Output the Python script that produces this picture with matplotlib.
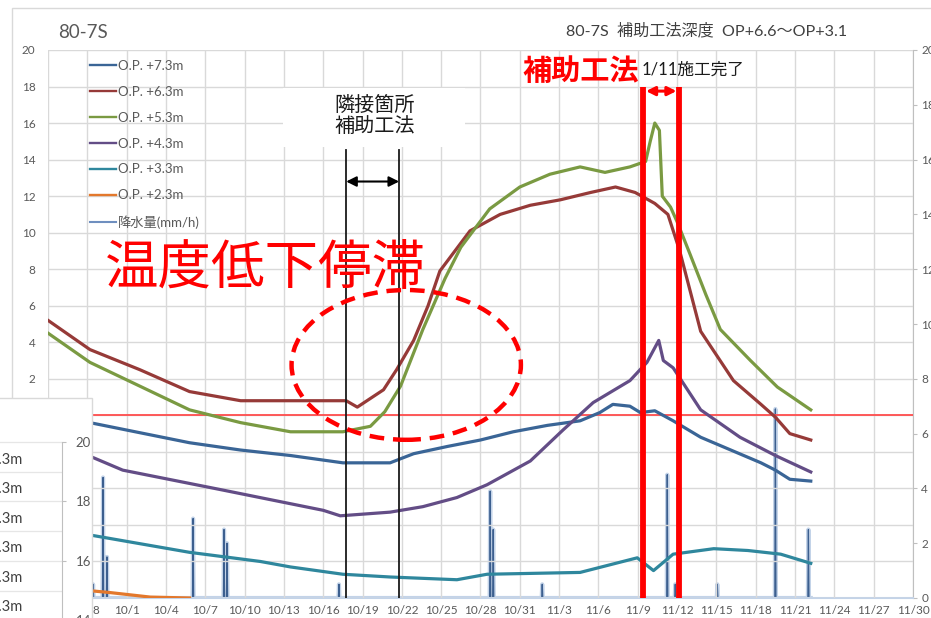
import numpy as np
import pandas as pd
import matplotlib
matplotlib.use("Agg")
import matplotlib.pyplot as plt
import matplotlib.dates as mdates
from matplotlib.patches import Ellipse, Rectangle
from matplotlib.lines import Line2D

plt.rcParams['font.family'] = ['Lato', 'Noto Sans CJK JP', 'DejaVu Sans']
plt.rcParams['axes.unicode_minus'] = False

W, H = 931, 618
START = pd.Timestamp('2019-09-25')
END = pd.Timestamp('2019-11-30')

# ---- data: elapsed days from START, ground temperature (deg C) ----
series_labels = ['O.P. +7.3m', 'O.P. +6.3m', 'O.P. +5.3m',
                 'O.P. +4.3m', 'O.P. +3.3m', 'O.P. +2.3m']
rain_label = '降水量(mm/h)'
series_colors = ['#3A6596', '#963A38', '#7A9A42', '#634D86', '#2F879D', '#E3782C']
rain_color = '#3C5F8F'

op73_days = [0, 3.2, 10.8, 14.7, 18.5, 22.5, 26.1, 27.9, 30.5, 33.0, 35.5,
             38.1, 40.6, 42.1, 43.1, 44.4, 45.2, 46.3, 47.7, 49.8, 52.1,
             54.4, 55.5, 56.6, 58.2]
op73_temp = [-0.1, -0.4, -1.5, -1.9, -2.2, -2.6, -2.6, -2.1, -1.7, -1.35, -0.9,
             -0.55, -0.3, 0.15, 0.6, 0.5, 0.15, 0.25, -0.3, -1.2, -1.9,
             -2.6, -3.0, -3.5, -3.6]

op63_days = [0, 3.2, 7.0, 10.8, 14.7, 19.2, 22.75, 23.6, 25.6, 26.6, 27.9,
             29.0, 29.9, 32.2, 34.5, 36.8, 39.1, 41.4, 43.3, 44.8, 46.3,
             47.3, 48.2, 49.0, 49.8, 52.3, 54.4, 55.5, 56.6, 58.2]
op63_temp = [5.2, 3.6, 2.5, 1.3, 0.8, 0.8, 0.8, 0.45, 1.4, 2.5, 4.1,
             6.0, 7.9, 10.1, 11.0, 11.5, 11.8, 12.2, 12.5, 12.2, 11.6,
             11.0, 9.0, 6.8, 4.6, 1.9, 0.6, -0.1, -1.0, -1.35]

op53_days = [0, 3.2, 7.0, 10.8, 14.7, 18.5, 22.5, 24.6, 25.7, 26.9, 28.6,
             30.3, 31.5, 33.7, 36.0, 38.3, 40.6, 42.5, 44.4, 45.6, 45.95,
             46.3, 46.65, 46.87, 47.5, 48.0, 49.0, 50.2, 51.3, 53.6, 55.65, 58.2]
op53_temp = [4.5, 2.9, 1.6, 0.3, -0.4, -0.9, -0.9, -0.6, 0.2, 1.6, 4.7,
             7.5, 9.2, 11.3, 12.5, 13.2, 13.6, 13.3, 13.6, 13.9, 15.0,
             16.0, 15.6, 12.0, 11.4, 10.6, 8.8, 6.6, 4.7, 3.0, 1.55, 0.3]

op43_days = [0, 3.4, 5.7, 13.4, 21.0, 22.3, 26.1, 28.6, 31.2, 33.5, 36.8,
             39.3, 41.6, 44.4, 45.7, 46.6, 46.95, 47.7, 49.8, 52.8, 55.5, 58.2]
op43_temp = [-1.8, -2.3, -3.0, -4.1, -5.2, -5.5, -5.3, -5.0, -4.5, -3.8, -2.5,
             -0.8, 0.7, 1.9, 2.9, 4.1, 3.0, 2.6, 0.3, -1.2, -2.2, -3.1]

op33_days = [0, 3.2, 10.8, 16.2, 18.5, 22.5, 26.1, 31.2, 33.5, 40.6, 44.96,
             46.2, 47.7, 50.8, 53.4, 55.9, 58.2]
op33_temp = [-6.3, -6.55, -7.5, -8.0, -8.3, -8.7, -8.85, -9.0, -8.7, -8.6, -7.8,
             -8.5, -7.6, -7.3, -7.4, -7.6, -8.1]

op23_days = [0, 3.2, 4.7, 7.8, 10.8]
op23_temp = [-8.9, -9.6, -9.7, -9.95, -10.0]

# hourly rainfall (mm/h): non-zero readings, all other hours are 0
rain_days = [3.44, 4.2, 4.5, 11.07, 13.43, 13.66, 22.2, 33.74, 33.97,
             37.71, 47.25, 47.86, 51.07, 55.5, 58.02]
rain_mm = [0.5, 4.4, 1.5, 2.9, 2.5, 2.0, 0.5, 3.9, 2.5,
           0.5, 4.5, 0.5, 0.5, 6.9, 2.5]
rain_end_day = 58.2

# works periods
neighbor_work = ('2019-10-17 18:00', '2019-10-21 19:00')
main_work = ('2019-11-09 10:00', '2019-11-12 04:00')


def to_dates(d):
    return START + pd.to_timedelta(np.asarray(d, dtype=float), unit='D')


def rain_profile(days, mm, end):
    hr = 1.0 / 24
    xs, ys = [0.0], [0.0]
    for d, v in zip(days, mm):
        xs += [d - hr, d, d + hr]
        ys += [0.0, v, 0.0]
    xs.append(end)
    ys.append(0.0)
    return to_dates(xs), ys


def fx(px):
    return px / W


def fy(py):
    return 1 - py / H


fig = plt.figure(figsize=(W / 100, H / 100), dpi=100)
fig.patch.set_facecolor('white')

grid_c = '#D9D9D9'
tick_c = '#595959'

ax = fig.add_axes([fx(48), fy(598), fx(913) - fx(48), fy(50) - fy(598)])
ax2 = ax.twinx()
ax.set_zorder(ax2.get_zorder() + 1)
ax.patch.set_visible(False)

# temperature series
temps = [(op73_days, op73_temp), (op63_days, op63_temp), (op53_days, op53_temp),
         (op43_days, op43_temp), (op33_days, op33_temp), (op23_days, op23_temp)]
for (d, t), c in zip(temps, series_colors):
    ax.plot(to_dates(d), t, color=c, lw=2.3, solid_joinstyle='round', zorder=3)

# rainfall on the secondary axis
rx, ry = rain_profile(rain_days, rain_mm, rain_end_day)
ax2.plot(rx, ry, color='#C3D3E8', lw=3.0, zorder=1)
ax2.plot(rx, ry, color=rain_color, lw=0.9, zorder=2)

# axes setup; labels under the corner panel are left blank
ax.set_xlim(START, END)
ax.set_ylim(-10, 20)
ax2.set_ylim(0, 20)
xt = pd.date_range(START, END, freq='3D')
ax.set_xticks(xt)
ax.set_xticklabels(['' if d == START else f'{d.month}/{d.day}' for d in xt])
yt = np.arange(-10, 21, 2)
ax.set_yticks(yt)
ax.set_yticklabels([f'{v}' if v > 0 else '' for v in yt])
ax2.set_yticks(np.arange(0, 21, 2))
ax.grid(True, color=grid_c, lw=1.0)
ax.tick_params(axis='x', length=0, pad=5, labelsize=8.5, labelcolor=tick_c)
ax.tick_params(axis='y', length=0, pad=9, labelsize=8.5, labelcolor=tick_c)
ax2.tick_params(axis='y', length=3, width=0.8, color='#BFBFBF', pad=3,
                labelsize=8.5, labelcolor=tick_c)
for a in (ax, ax2):
    for s in a.spines.values():
        s.set_visible(False)
ax2.spines['right'].set_visible(True)
ax2.spines['right'].set_color('#BFBFBF')
ax2.spines['bottom'].set_visible(True)
ax2.spines['bottom'].set_color('#C3D3E8')
ax2.spines['bottom'].set_linewidth(1.5)

# freezing line
ax.axhline(0, color='#FF4D4D', lw=1.3, zorder=2.5)

# neighbouring works period
n0, n1 = pd.Timestamp(neighbor_work[0]), pd.Timestamp(neighbor_work[1])
for t in (n0, n1):
    ax.plot([t, t], [-10, 14.5], color='#1A1A1A', lw=1.3, zorder=4)
ax.annotate('', xy=(n1, 12.8), xytext=(n0, 12.8),
            arrowprops=dict(arrowstyle='<|-|>', color='black', lw=1.5,
                            mutation_scale=15, shrinkA=0, shrinkB=0), zorder=5)
box_x0 = START + pd.Timedelta(days=17.94)
box_x1 = START + pd.Timedelta(days=31.83)
ax.add_patch(Rectangle((mdates.date2num(box_x0), 14.7),
                       mdates.date2num(box_x1) - mdates.date2num(box_x0), 3.2,
                       facecolor='white', edgecolor='none', zorder=4.5))

# main works period
m0, m1 = pd.Timestamp(main_work[0]), pd.Timestamp(main_work[1])
for t in (m0, m1):
    ax.plot([t, t], [-10, 18.0], color='#FF0000', lw=4.2, zorder=6,
            solid_capstyle='butt')
ax.annotate('', xy=(m1, 17.75), xytext=(m0, 17.75),
            arrowprops=dict(arrowstyle='<|-|>', color='#FF0000', lw=2.2,
                            mutation_scale=13, shrinkA=2, shrinkB=2), zorder=6)

# stagnation region
ec = mdates.date2num(pd.Timestamp('2019-10-22 08:00'))
ax.add_patch(Ellipse((ec, 2.76), width=17.5, height=8.2, fill=False,
                     edgecolor='#FF0000', lw=3.2, linestyle=(0, (3.3, 2.0)),
                     zorder=6))

# chart frame
fig.add_artist(Rectangle((fx(12), -0.05), 1.0, fy(8) + 0.05,
                         transform=fig.transFigure, fill=False,
                         edgecolor=grid_c, lw=1.0, zorder=0.5))

# titles
fig.text(fx(58), fy(32), '80-7S', fontsize=13.5, color=tick_c,
         ha='left', va='center')
fig.text(fx(707), fy(31), '80-7S  補助工法深度  OP+6.6～OP+3.1', fontsize=11.6,
         color='#404040', ha='center', va='center')

# annotations
fig.text(fx(375), fy(115), '隣接箇所\n補助工法', fontsize=14.5, color='#1A1A1A',
         ha='center', va='center', linespacing=1.1, zorder=7)
fig.text(fx(265), fy(268), '温度低下停滞', fontsize=38.5, color='#FF0000',
         ha='center', va='center', zorder=7)
fig.text(fx(581), fy(71), '補助工法', fontsize=21, color='#FF0000',
         fontweight='bold', ha='center', va='center', zorder=7)
fig.text(fx(693), fy(70), '1/11施工完了', fontsize=12, color='#1A1A1A',
         ha='center', va='center', zorder=7)

# legend
handles = [Line2D([], [], color=c, lw=1.7) for c in series_colors]
handles.append(Line2D([], [], color='#6F8FBF', lw=1.5))
fig.legend(handles, series_labels + [rain_label], loc='upper left',
           bbox_to_anchor=(fx(90), fy(60)), frameon=False, fontsize=9.5,
           handlelength=2.0, handletextpad=0.1, labelspacing=1.05,
           borderpad=0, borderaxespad=0, labelcolor=tick_c)

# overlapping panel in the lower-left corner
fig.add_artist(Rectangle((-0.01, -0.01), fx(92) + 0.01, fy(398) + 0.01,
                         transform=fig.transFigure, facecolor='white',
                         edgecolor=grid_c, lw=1.0, zorder=8))
ax_in = fig.add_axes([-0.1, fy(640), 0.1 + fx(62), fy(398) - fy(640)], zorder=9)
ax_in.patch.set_visible(False)
in_lo = 20 - (640 - 442) / 29.75
in_hi = 20 + (442 - 398) / 29.75
ax_in.set_ylim(in_lo, in_hi)
ax_in.set_xlim(0, 1)
ax_in.set_xticks([])
ax_in.yaxis.tick_right()
ax_in.set_yticks([14, 16, 18, 20])
ax_in.set_yticks([15, 17, 19], minor=True)
ax_in.grid(True, which='both', axis='y', color='#E6E6E6', lw=0.9)
ax_in.tick_params(axis='y', which='major', length=3, width=0.8, color='#BFBFBF',
                  pad=7, labelsize=9.5, labelcolor=tick_c)
ax_in.tick_params(axis='y', which='minor', length=0)
for k, s in ax_in.spines.items():
    s.set_visible(k == 'right')
ax_in.spines['right'].set_color('#BFBFBF')
ax_in.spines['right'].set_bounds(in_lo, 20)
for i, lab in enumerate(series_labels):
    fig.text(fx(22), fy(460 + i * 29.4), lab, fontsize=10.5, color='#404040',
             ha='right', va='center', zorder=10)

fig.savefig('out.png', dpi=100)
